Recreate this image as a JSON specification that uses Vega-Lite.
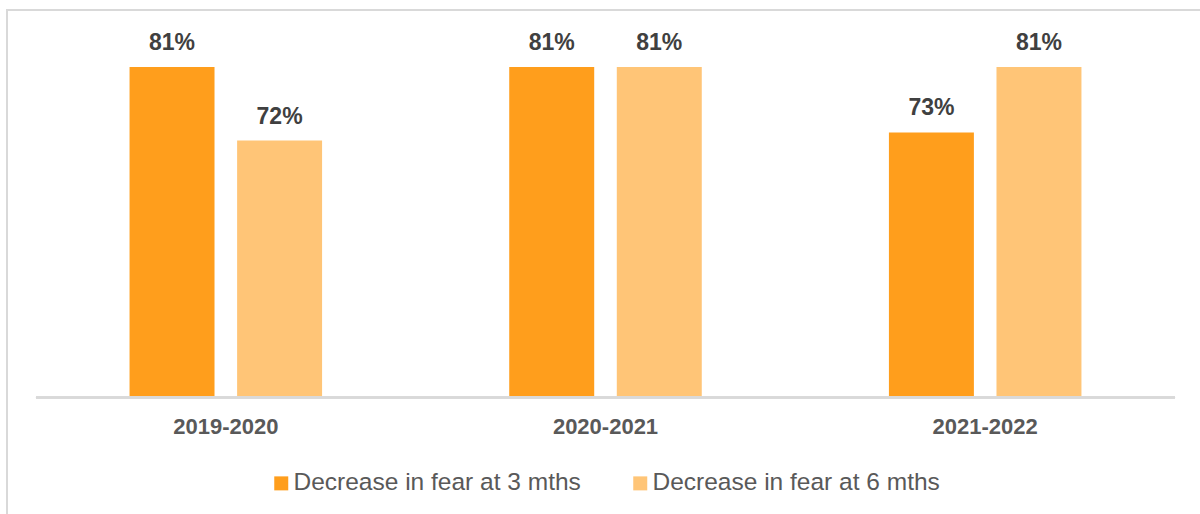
{
  "$schema": "https://vega.github.io/schema/vega-lite/v6.json",
  "width": 1197,
  "height": 514,
  "autosize": {"type": "none"},
  "padding": {"left": 7, "top": 10, "right": -4, "bottom": -10},
  "background": "white",
  "config": {"view": {"stroke": "#D9D9D9", "strokeWidth": 2}},
  "data": {
    "values": [
      {"period": "2019-2020", "series": "Decrease in fear at 3 mths", "value": 0.81},
      {"period": "2019-2020", "series": "Decrease in fear at 6 mths", "value": 0.72},
      {"period": "2020-2021", "series": "Decrease in fear at 3 mths", "value": 0.81},
      {"period": "2020-2021", "series": "Decrease in fear at 6 mths", "value": 0.81},
      {"period": "2021-2022", "series": "Decrease in fear at 3 mths", "value": 0.73},
      {"period": "2021-2022", "series": "Decrease in fear at 6 mths", "value": 0.81}
    ]
  },
  "encoding": {
    "x": {
      "field": "period",
      "type": "nominal",
      "sort": null,
      "scale": {"paddingInner": 0, "paddingOuter": 0.0763},
      "axis": {
        "title": null,
        "orient": "bottom",
        "offset": -126,
        "domain": false,
        "ticks": false,
        "tickSize": 0,
        "labelPadding": 18,
        "labelAngle": 0,
        "labelFont": "Liberation Sans",
        "labelFontWeight": "bold",
        "labelFontSize": 22,
        "labelColor": "#595959",
        "grid": false
      }
    }
  },
  "layer": [
    {
      "mark": {"type": "bar"},
      "encoding": {
        "xOffset": {
          "field": "series",
          "type": "nominal",
          "scale": {"paddingInner": 0.21, "paddingOuter": 0.87}
        },
        "y": {
          "field": "value",
          "type": "quantitative",
          "scale": {"domain": [0.25, 0.88], "nice": false, "zero": false},
          "axis": null
        },
        "y2": {"datum": 0.405},
        "color": {
          "field": "series",
          "type": "nominal",
          "scale": {
            "domain": ["Decrease in fear at 3 mths", "Decrease in fear at 6 mths"],
            "range": ["#FF9E1C", "#FFC577"]
          },
          "legend": {
            "title": null,
            "orient": "none",
            "legendX": 262,
            "legendY": 461,
            "direction": "horizontal",
            "padding": 0,
            "symbolType": "square",
            "symbolSize": 196,
            "symbolStrokeWidth": 0,
            "labelFont": "Liberation Sans",
            "labelFontSize": 24.5,
            "labelColor": "#595959",
            "labelOffset": 0,
            "labelLimit": 0,
            "columnPadding": 47
          }
        }
      }
    },
    {
      "mark": {
        "type": "text",
        "baseline": "alphabetic",
        "align": "center",
        "dy": -17,
        "font": "Liberation Sans",
        "fontWeight": "bold",
        "fontSize": 23,
        "color": "#404040"
      },
      "encoding": {
        "xOffset": {
          "field": "series",
          "type": "nominal",
          "scale": {"paddingInner": 0.21, "paddingOuter": 0.87}
        },
        "y": {"field": "value", "type": "quantitative"},
        "text": {"field": "value", "type": "quantitative", "format": ".0%"}
      }
    },
    {
      "mark": {"type": "rule", "color": "#D9D9D9", "strokeWidth": 2},
      "encoding": {
        "x": {"datum": "2019-2020", "bandPosition": 0},
        "x2": {"datum": "2021-2022", "bandPosition": 1},
        "y": {"datum": 0.405}
      }
    }
  ]
}
